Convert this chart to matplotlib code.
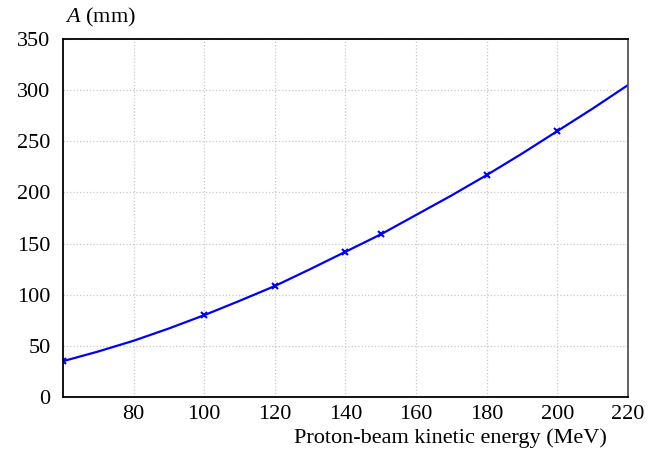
import numpy as np
import matplotlib
matplotlib.use('Agg')
import matplotlib.pyplot as plt

plt.rcParams['font.family'] = ['Liberation Serif', 'DejaVu Serif']
plt.rcParams['mathtext.fontset'] = 'custom'
plt.rcParams['mathtext.it'] = 'Liberation Serif:italic'
plt.rcParams['mathtext.rm'] = 'Liberation Serif'

# curve
energy = [60, 70, 80, 90, 100, 110, 120, 130, 140, 150, 160, 170, 180, 190, 200, 210, 220]
amp = [35, 44.5, 55, 67, 80, 94, 108.5, 125, 142, 159, 178, 197, 217, 238, 260, 282, 305]

# points with markers
mark_energy = [60, 100, 120, 140, 150, 180, 200]
mark_amp = [35, 80, 108.5, 142, 159, 217, 260]

xticks = [80, 100, 120, 140, 160, 180, 200, 220]
yticks = [0, 50, 100, 150, 200, 250, 300, 350]

fig = plt.figure(figsize=(6.58, 4.5), dpi=100)
ax = fig.add_axes([0.0957, 0.1178, 0.8587, 0.7955])

ax.plot(energy, amp, color='#0000ff', lw=1.6)
ax.plot(mark_energy, mark_amp, ls='none', marker='x', ms=4, mew=1.5, color='#0000ff')

ax.set_xlim(60, 220)
ax.set_ylim(0, 350)
ax.set_xticks(xticks)
ax.set_yticks(yticks)
ax.tick_params(length=0, labelsize=16, pad=6)
ax.tick_params(axis='y', pad=9)
ax.grid(True, ls=':', color='#c8c8c8', lw=0.9)
for s in ['left', 'bottom', 'top']:
    ax.spines[s].set_linewidth(1.3)
    ax.spines[s].set_color('black')
ax.spines['right'].set_color('#555555')
ax.spines['right'].set_linewidth(1.3)

fig.text(0.0985, 0.962, r'$\mathit{A}$ (mm)', fontsize=16, ha='left', va='center')
fig.text(0.684, 0.026, 'Proton-beam kinetic energy (MeV)', fontsize=16, ha='center', va='center')

fig.savefig('out.png', dpi=100)
